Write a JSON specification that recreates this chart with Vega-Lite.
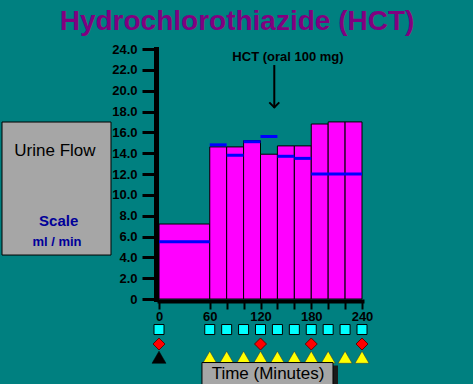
{
  "$schema": "https://vega.github.io/schema/vega-lite/v6.json",
  "width": 203,
  "height": 250,
  "autosize": {"type": "none"},
  "padding": {"left": 159, "top": 49, "right": 111, "bottom": 85},
  "background": "#008080",
  "title": {
    "text": "Hydrochlorothiazide (HCT)",
    "frame": "group",
    "anchor": "middle",
    "dx": -23.5,
    "offset": 7,
    "font": "Liberation Sans",
    "fontSize": 28,
    "fontWeight": "bold",
    "color": "#800080"
  },
  "resolve": {"axis": {"x": "independent", "y": "independent"}},
  "config": {
    "view": {"stroke": null},
    "axis": {
      "grid": false,
      "title": null,
      "domainColor": "black",
      "tickColor": "black",
      "labelColor": "black",
      "labelFont": "Liberation Sans",
      "labelFontWeight": "bold",
      "labelFontSize": 13,
      "labelOverlap": false,
      "labelFlush": false,
      "domainCap": "square"
    }
  },
  "datasets": {
    "bars": [
      {"start": 0, "end": 60, "flow": 7.2, "ref": 5.5},
      {"start": 60, "end": 80, "flow": 14.6, "ref": 14.8},
      {"start": 80, "end": 100, "flow": 14.6, "ref": 13.8},
      {"start": 100, "end": 120, "flow": 15.2, "ref": 15.1},
      {"start": 120, "end": 140, "flow": 13.9, "ref": 15.6},
      {"start": 140, "end": 160, "flow": 14.7, "ref": 13.7},
      {"start": 160, "end": 180, "flow": 14.7, "ref": 13.5},
      {"start": 180, "end": 200, "flow": 16.8, "ref": 12.0},
      {"start": 200, "end": 220, "flow": 17.0, "ref": 12.0},
      {"start": 220, "end": 240, "flow": 17.0, "ref": 12.0}
    ],
    "squares": [{"t": 0}, {"t": 60}, {"t": 80}, {"t": 100}, {"t": 120}, {"t": 140}, {"t": 160}, {"t": 180}, {"t": 200}, {"t": 220}, {"t": 240}],
    "diamonds": [{"t": 0}, {"t": 120}, {"t": 180}, {"t": 240}],
    "blackTri": [{"t": 0}],
    "yellowTri": [{"t": 60}, {"t": 80}, {"t": 100}, {"t": 120}, {"t": 140}, {"t": 160}, {"t": 180}, {"t": 200}, {"t": 220}, {"t": 240}]
  },
  "layer": [
    {
      "data": {"values": [{}]},
      "mark": {"type": "rect", "fill": "#a6a6a6", "stroke": "black", "strokeWidth": 1},
      "encoding": {
        "x": {"datum": -185.6, "axis": null},
        "x2": {"datum": -56.75},
        "y": {"datum": 16.99, "axis": null},
        "y2": {"datum": 4.22}
      }
    },
    {
      "data": {"values": [{"label": "Urine Flow"}]},
      "mark": {"type": "text", "font": "Liberation Sans", "fontSize": 17, "color": "black", "align": "center", "baseline": "alphabetic"},
      "encoding": {"x": {"datum": -123, "axis": null}, "y": {"datum": 13.73, "axis": null}, "text": {"field": "label"}}
    },
    {
      "data": {"values": [{"label": "Scale"}]},
      "mark": {"type": "text", "font": "Liberation Sans", "fontSize": 15, "fontWeight": "bold", "color": "#000099", "align": "center", "baseline": "alphabetic"},
      "encoding": {"x": {"datum": -118.6, "axis": null}, "y": {"datum": 7.01, "axis": null}, "text": {"field": "label"}}
    },
    {
      "data": {"values": [{"label": "ml / min"}]},
      "mark": {"type": "text", "font": "Liberation Sans", "fontSize": 13, "fontWeight": "bold", "color": "#000099", "align": "center", "baseline": "alphabetic"},
      "encoding": {"x": {"datum": -120.6, "axis": null}, "y": {"datum": 5.09, "axis": null}, "text": {"field": "label"}}
    },
    {
      "data": {"name": "bars"},
      "mark": {"type": "rect", "fill": "#ff00ff", "stroke": "black", "strokeWidth": 1},
      "encoding": {
        "x": {
          "field": "start", "type": "quantitative",
          "scale": {"domain": [0, 240], "nice": false, "zero": false},
          "axis": {
            "values": [0, 60, 80, 100, 120, 140, 160, 180, 200, 220, 240],
            "labelExpr": "datum.value % 60 == 0 ? datum.label : ''",
            "domainWidth": 4,
            "offset": 2,
            "tickWidth": 2,
            "tickSize": 8,
            "labelPadding": 1
          }
        },
        "x2": {"field": "end"},
        "y": {
          "field": "flow", "type": "quantitative",
          "scale": {"domain": [0, 24], "nice": false, "zero": false},
          "axis": {
            "values": [0, 2, 4, 6, 8, 10, 12, 14, 16, 18, 20, 22, 24],
            "labelExpr": "datum.value == 0 ? '0' : format(datum.value, '.1f')",
            "domainWidth": 5,
            "offset": 3,
            "tickWidth": 3,
            "tickSize": 14,
            "labelPadding": 5
          }
        },
        "y2": {"datum": 0}
      }
    },
    {
      "data": {"name": "bars"},
      "mark": {"type": "rule", "color": "#0000ff", "strokeWidth": 3},
      "encoding": {
        "x": {"field": "start", "type": "quantitative", "axis": null},
        "x2": {"field": "end"},
        "y": {"field": "ref", "type": "quantitative", "axis": null}
      }
    },
    {
      "data": {"values": [{"label": "HCT (oral 100 mg)"}]},
      "mark": {"type": "text", "font": "Liberation Sans", "fontSize": 13, "fontWeight": "bold", "color": "black", "align": "center", "baseline": "alphabetic"},
      "encoding": {"x": {"datum": 152.5, "axis": null}, "y": {"datum": 22.85, "axis": null}, "text": {"field": "label"}}
    },
    {
      "data": {"values": [{}]},
      "mark": {"type": "rule", "color": "black", "strokeWidth": 2},
      "encoding": {"x": {"datum": 136.3, "axis": null}, "y": {"datum": 22.46, "axis": null}, "y2": {"datum": 18.34}}
    },
    {
      "data": {"values": [{}]},
      "mark": {"type": "point", "shape": "M-1,-1L0,0L1,-1", "filled": false, "stroke": "black", "strokeWidth": 2, "size": 100, "opacity": 1},
      "encoding": {"x": {"datum": 136.3, "axis": null}, "y": {"datum": 18.4, "axis": null}}
    },
    {
      "data": {"name": "squares"},
      "mark": {"type": "point", "shape": "square", "filled": true, "fill": "#00ffff", "stroke": "black", "strokeWidth": 1, "size": 100, "opacity": 1},
      "encoding": {"x": {"field": "t", "type": "quantitative", "axis": null}, "y": {"datum": -2.93, "axis": null}}
    },
    {
      "data": {"name": "diamonds"},
      "mark": {"type": "point", "shape": "diamond", "filled": true, "fill": "#ff0000", "stroke": "#660000", "strokeWidth": 1, "size": 144, "opacity": 1},
      "encoding": {"x": {"field": "t", "type": "quantitative", "axis": null}, "y": {"datum": -4.32, "axis": null}}
    },
    {
      "data": {"name": "blackTri"},
      "mark": {"type": "point", "shape": "triangle-up", "filled": true, "fill": "black", "stroke": "black", "strokeWidth": 0.5, "size": 196, "opacity": 1},
      "encoding": {"x": {"field": "t", "type": "quantitative", "axis": null}, "y": {"datum": -5.59, "axis": null}}
    },
    {
      "data": {"name": "yellowTri"},
      "mark": {"type": "point", "shape": "triangle-up", "filled": true, "fill": "#ffff00", "stroke": "#333333", "strokeWidth": 0.5, "size": 196, "opacity": 1},
      "encoding": {"x": {"field": "t", "type": "quantitative", "axis": null}, "y": {"datum": -5.59, "axis": null}}
    },
    {
      "data": {"values": [{}]},
      "mark": {"type": "rect", "fill": "#1a1a1a"},
      "encoding": {"x": {"datum": 56.75, "axis": null}, "x2": {"datum": 211.6}, "y": {"datum": -6.38, "axis": null}, "y2": {"datum": -8.6}}
    },
    {
      "data": {"values": [{}]},
      "mark": {"type": "rect", "fill": "#a6a6a6", "stroke": "black", "strokeWidth": 1},
      "encoding": {"x": {"datum": 50.8, "axis": null}, "x2": {"datum": 205.7}, "y": {"datum": -6.1, "axis": null}, "y2": {"datum": -8.6}}
    },
    {
      "data": {"values": [{"label": "Time (Minutes)"}]},
      "mark": {"type": "text", "font": "Liberation Sans", "fontSize": 17, "color": "black", "align": "center", "baseline": "alphabetic"},
      "encoding": {"x": {"datum": 128.9, "axis": null}, "y": {"datum": -7.71, "axis": null}, "text": {"field": "label"}}
    }
  ]
}
